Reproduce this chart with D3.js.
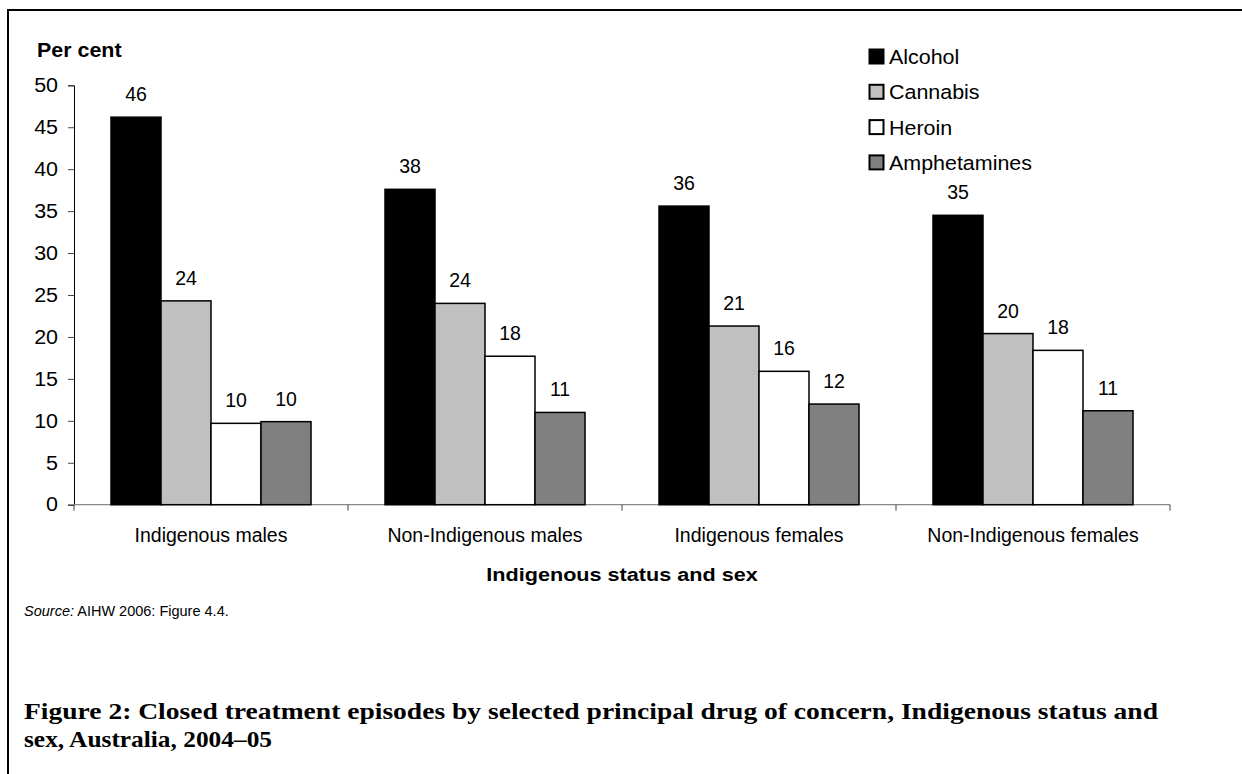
<!DOCTYPE html>
<html>
<head>
<meta charset="utf-8">
<script src="https://cdn.jsdelivr.net/npm/d3@7"></script>
<style>
  html, body { margin: 0; padding: 0; background: #fff; }
  svg { display: block; }
</style>
</head>
<body>
<svg id="chart" width="1242" height="774" font-family="Liberation Sans, Arial, sans-serif"></svg>
<script>
// Groups along the x axis
const groups = ["Indigenous males", "Non-Indigenous males", "Indigenous females", "Non-Indigenous females"];
// Principal drugs of concern
const drugs = ["Alcohol", "Cannabis", "Heroin", "Amphetamines"];
// Per cent of closed treatment episodes, one array per drug, in group order
const alcohol      = [46.2, 37.6, 35.6, 34.5];
const cannabis     = [24.3, 24.0, 21.3, 20.4];
const heroin       = [9.7, 17.7, 15.9, 18.4];
const amphetamines = [9.9, 11.0, 12.0, 11.2];
// Y axis ticks
const yTicks = [0, 5, 10, 15, 20, 25, 30, 35, 40, 45, 50];

const series = [alcohol, cannabis, heroin, amphetamines];
const fills = ["#000000", "#c0c0c0", "#ffffff", "#808080"];

const svg = d3.select("#chart");

// Places a text at (x, y), slightly widened horizontally
function place(sel, x, y, sx) {
  return sel.attr("transform", `translate(${x},${y}) scale(${sx},1)`);
}

// Outer frame: left and top rules
svg.append("line").attr("x1", 8).attr("x2", 8).attr("y1", 9).attr("y2", 774)
  .attr("stroke", "#000").attr("stroke-width", 2);
svg.append("line").attr("x1", 7).attr("x2", 1242).attr("y1", 10).attr("y2", 10)
  .attr("stroke", "#000").attr("stroke-width", 2);

const plotLeft = 74, plotRight = 1170, plotTop = 85.3, plotBottom = 504.7;

const x0 = d3.scaleBand().domain(groups).range([plotLeft, plotRight]).paddingInner(0).paddingOuter(0);
const x1 = d3.scaleBand().domain(drugs).range([37, x0.bandwidth() - 37]).padding(0);
const y = d3.scaleLinear().domain([0, 50]).range([plotBottom, plotTop]);

// Y axis
const yAxis = svg.append("g").attr("transform", `translate(${plotLeft},0)`)
  .call(d3.axisLeft(y).tickValues(yTicks).tickSize(6).tickPadding(10).tickFormat(d3.format("d")));
yAxis.attr("font-family", null).attr("font-size", null);
yAxis.select(".domain").attr("stroke", "#000").attr("stroke-width", 1);
yAxis.selectAll(".tick line").attr("stroke", "#444");
yAxis.selectAll(".tick text")
  .attr("font-size", 19.5).attr("fill", "#000")
  .attr("x", -16 / 1.1).attr("transform", "scale(1.1,1)");

// X axis baseline with category separators
const xAxis = svg.append("g").attr("transform", `translate(0,${plotBottom})`);
xAxis.append("line").attr("x1", plotLeft).attr("x2", plotRight).attr("y1", 0).attr("y2", 0)
  .attr("stroke", "#888").attr("stroke-width", 1.2);
const sepPos = groups.map(g => x0(g)).concat([plotRight]);
xAxis.selectAll("line.sep").data(sepPos).join("line").attr("class", "sep")
  .attr("x1", d => d).attr("x2", d => d).attr("y1", 0).attr("y2", 6)
  .attr("stroke", "#444").attr("stroke-width", 1);
xAxis.selectAll("text.cat").data(groups).join("text").attr("class", "cat")
  .attr("x", d => x0(d) + x0.bandwidth() / 2).attr("y", 37)
  .attr("text-anchor", "middle").attr("font-size", 19.5).text(d => d);

// Bars
const barData = [];
groups.forEach((g, gi) => drugs.forEach((dname, di) => {
  barData.push({ group: g, drug: dname, value: series[di][gi], fill: fills[di] });
}));

const bars = svg.append("g");
bars.selectAll("rect").data(barData).join("rect")
  .attr("x", d => x0(d.group) + x1(d.drug))
  .attr("y", d => y(d.value))
  .attr("width", x1.bandwidth())
  .attr("height", d => plotBottom - y(d.value))
  .attr("fill", d => d.fill)
  .attr("stroke", "#000").attr("stroke-width", 1.5);

// Value labels
bars.selectAll("text").data(barData).join("text")
  .attr("x", d => x0(d.group) + x1(d.drug) + x1.bandwidth() / 2)
  .attr("y", d => y(d.value) - 16)
  .attr("text-anchor", "middle").attr("font-size", 19.5)
  .text(d => Math.round(d.value));

// Axis titles
place(svg.append("text"), 37, 57.3, 1.1)
  .attr("font-size", 19.5).attr("font-weight", "bold").text("Per cent");
place(svg.append("text"), (plotLeft + plotRight) / 2, 581, 1.15)
  .attr("text-anchor", "middle").attr("font-size", 18.8).attr("font-weight", "bold")
  .text("Indigenous status and sex");

// Legend
const legend = svg.append("g").attr("transform", "translate(869.5,49.5)");
drugs.forEach((dname, i) => {
  const row = legend.append("g").attr("transform", `translate(0,${i * 35.3})`);
  row.append("rect").attr("x", 0).attr("y", 0).attr("width", 14).attr("height", 14)
    .attr("fill", fills[i]).attr("stroke", "#000").attr("stroke-width", 2);
  place(row.append("text"), 19.5, 14.5, 1.1).attr("font-size", 19.5).text(dname);
});

// Source note
const src = svg.append("text").attr("x", 24).attr("y", 616).attr("font-size", 14.5);
src.append("tspan").attr("font-style", "italic").text("Source:");
src.append("tspan").text(" AIHW 2006: Figure 4.4.");

// Figure caption
const cap = svg.append("g").attr("font-family", "Liberation Serif, 'Times New Roman', serif")
  .attr("font-weight", "bold").attr("font-size", 23);
cap.append("text").attr("x", 24).attr("y", 719)
  .attr("textLength", 1134).attr("lengthAdjust", "spacingAndGlyphs")
  .text("Figure 2: Closed treatment episodes by selected principal drug of concern, Indigenous status and");
cap.append("text").attr("x", 24).attr("y", 747)
  .attr("textLength", 248).attr("lengthAdjust", "spacingAndGlyphs")
  .text("sex, Australia, 2004–05");
</script>
</body>
</html>
